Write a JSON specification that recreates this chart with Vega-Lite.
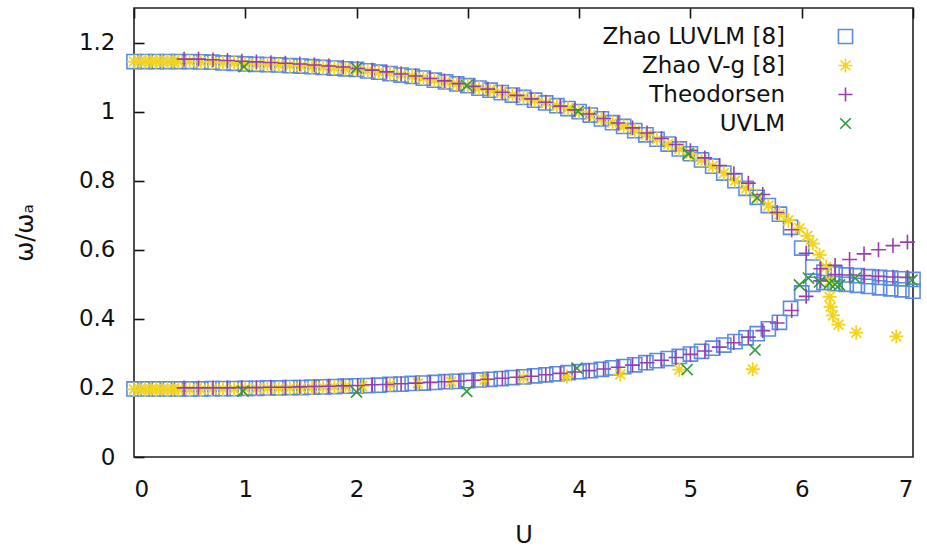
{
"$schema": "https://vega.github.io/schema/vega-lite/v6.json",
"width": 779, "height": 449,
"autosize": {"type": "none"},
"padding": {"left": 134, "top": 8, "right": 14, "bottom": 93},
"background": "white",
"config": {
 "font": "DejaVu Sans",
 "view": {"stroke": "#222", "strokeWidth": 1.6},
 "axis": {"grid": true, "gridColor": "#111", "gridWidth": 1.6, "gridOpacity": 1, "gridDash": [10, 2000], "domain": false, "ticks": true, "tickSize": 0, "labelFontSize": 23, "labelColor": "#111", "titleFontSize": 24, "titleFontWeight": "normal", "titleColor": "#111"},
 "legend": {"labelFontSize": 23, "labelColor": "#111", "labelLimit": 400}
},
"data": {"values": [
{"s":"L","u":0,"v":1.145},{"s":"L","u":0.1,"v":1.145},{"s":"L","u":0.2,"v":1.145},{"s":"L","u":0.3,"v":1.145},{"s":"L","u":0.4,"v":1.145},{"s":"L","u":0.5,"v":1.145},{"s":"L","u":0.6,"v":1.144},{"s":"L","u":0.7,"v":1.143},{"s":"L","u":0.8,"v":1.141},{"s":"L","u":0.9,"v":1.14},
{"s":"L","u":1,"v":1.138},{"s":"L","u":1.1,"v":1.137},{"s":"L","u":1.2,"v":1.136},{"s":"L","u":1.3,"v":1.135},{"s":"L","u":1.4,"v":1.133},{"s":"L","u":1.5,"v":1.132},{"s":"L","u":1.6,"v":1.13},{"s":"L","u":1.7,"v":1.128},{"s":"L","u":1.8,"v":1.126},{"s":"L","u":1.9,"v":1.124},
{"s":"L","u":2,"v":1.122},{"s":"L","u":2.1,"v":1.118},{"s":"L","u":2.2,"v":1.114},{"s":"L","u":2.3,"v":1.11},{"s":"L","u":2.4,"v":1.106},{"s":"L","u":2.5,"v":1.102},{"s":"L","u":2.6,"v":1.097},{"s":"L","u":2.7,"v":1.091},{"s":"L","u":2.8,"v":1.086},{"s":"L","u":2.9,"v":1.08},
{"s":"L","u":3,"v":1.075},{"s":"L","u":3.1,"v":1.068},{"s":"L","u":3.2,"v":1.062},{"s":"L","u":3.3,"v":1.055},{"s":"L","u":3.4,"v":1.048},{"s":"L","u":3.5,"v":1.041},{"s":"L","u":3.6,"v":1.033},{"s":"L","u":3.7,"v":1.025},{"s":"L","u":3.8,"v":1.017},{"s":"L","u":3.9,"v":1.009},
{"s":"L","u":4,"v":1.0},{"s":"L","u":4.1,"v":0.99},{"s":"L","u":4.2,"v":0.979},{"s":"L","u":4.3,"v":0.968},{"s":"L","u":4.4,"v":0.957},{"s":"L","u":4.5,"v":0.945},{"s":"L","u":4.6,"v":0.933},{"s":"L","u":4.7,"v":0.92},{"s":"L","u":4.8,"v":0.906},{"s":"L","u":4.9,"v":0.892},
{"s":"L","u":5,"v":0.878},{"s":"L","u":5.1,"v":0.86},{"s":"L","u":5.2,"v":0.842},{"s":"L","u":5.3,"v":0.822},{"s":"L","u":5.4,"v":0.8},{"s":"L","u":5.5,"v":0.778},{"s":"L","u":5.6,"v":0.752},{"s":"L","u":5.7,"v":0.728},{"s":"L","u":5.8,"v":0.703},{"s":"L","u":5.9,"v":0.665},
{"s":"L","u":6,"v":0.605},{"s":"L","u":6.1,"v":0.55},{"s":"L","u":6.2,"v":0.535},{"s":"L","u":6.3,"v":0.53},{"s":"L","u":6.4,"v":0.527},{"s":"L","u":6.5,"v":0.525},{"s":"L","u":6.6,"v":0.522},{"s":"L","u":6.7,"v":0.52},{"s":"L","u":6.8,"v":0.518},{"s":"L","u":6.9,"v":0.516},{"s":"L","u":7,"v":0.514},
{"s":"L","u":0,"v":0.197},{"s":"L","u":0.1,"v":0.197},{"s":"L","u":0.2,"v":0.197},{"s":"L","u":0.3,"v":0.197},{"s":"L","u":0.4,"v":0.197},{"s":"L","u":0.5,"v":0.197},{"s":"L","u":0.6,"v":0.197},{"s":"L","u":0.7,"v":0.198},{"s":"L","u":0.8,"v":0.198},{"s":"L","u":0.9,"v":0.198},
{"s":"L","u":1,"v":0.199},{"s":"L","u":1.1,"v":0.199},{"s":"L","u":1.2,"v":0.2},{"s":"L","u":1.3,"v":0.2},{"s":"L","u":1.4,"v":0.201},{"s":"L","u":1.5,"v":0.201},{"s":"L","u":1.6,"v":0.202},{"s":"L","u":1.7,"v":0.203},{"s":"L","u":1.8,"v":0.204},{"s":"L","u":1.9,"v":0.205},
{"s":"L","u":2,"v":0.206},{"s":"L","u":2.1,"v":0.207},{"s":"L","u":2.2,"v":0.208},{"s":"L","u":2.3,"v":0.21},{"s":"L","u":2.4,"v":0.211},{"s":"L","u":2.5,"v":0.213},{"s":"L","u":2.6,"v":0.214},{"s":"L","u":2.7,"v":0.216},{"s":"L","u":2.8,"v":0.218},{"s":"L","u":2.9,"v":0.219},
{"s":"L","u":3,"v":0.221},{"s":"L","u":3.1,"v":0.223},{"s":"L","u":3.2,"v":0.225},{"s":"L","u":3.3,"v":0.227},{"s":"L","u":3.4,"v":0.23},{"s":"L","u":3.5,"v":0.232},{"s":"L","u":3.6,"v":0.235},{"s":"L","u":3.7,"v":0.238},{"s":"L","u":3.8,"v":0.241},{"s":"L","u":3.9,"v":0.244},
{"s":"L","u":4,"v":0.247},{"s":"L","u":4.1,"v":0.25},{"s":"L","u":4.2,"v":0.254},{"s":"L","u":4.3,"v":0.258},{"s":"L","u":4.4,"v":0.262},{"s":"L","u":4.5,"v":0.267},{"s":"L","u":4.6,"v":0.273},{"s":"L","u":4.7,"v":0.279},{"s":"L","u":4.8,"v":0.285},{"s":"L","u":4.9,"v":0.291},
{"s":"L","u":5,"v":0.298},{"s":"L","u":5.1,"v":0.306},{"s":"L","u":5.2,"v":0.315},{"s":"L","u":5.3,"v":0.324},{"s":"L","u":5.4,"v":0.334},{"s":"L","u":5.5,"v":0.345},{"s":"L","u":5.6,"v":0.357},{"s":"L","u":5.7,"v":0.371},{"s":"L","u":5.8,"v":0.39},{"s":"L","u":5.9,"v":0.43},
{"s":"L","u":6,"v":0.475},{"s":"L","u":6.1,"v":0.5},{"s":"L","u":6.2,"v":0.505},{"s":"L","u":6.3,"v":0.502},{"s":"L","u":6.4,"v":0.5},{"s":"L","u":6.5,"v":0.497},{"s":"L","u":6.6,"v":0.494},{"s":"L","u":6.7,"v":0.49},{"s":"L","u":6.8,"v":0.487},{"s":"L","u":6.9,"v":0.484},{"s":"L","u":7,"v":0.48},

{"s":"V","u":0,"v":1.145},{"s":"V","u":0.05,"v":1.145},{"s":"V","u":0.1,"v":1.145},{"s":"V","u":0.15,"v":1.145},{"s":"V","u":0.2,"v":1.145},{"s":"V","u":0.25,"v":1.145},{"s":"V","u":0.3,"v":1.145},{"s":"V","u":0.35,"v":1.145},{"s":"V","u":0.4,"v":1.145},{"s":"V","u":0.5,"v":1.145},{"s":"V","u":0.6,"v":1.144},{"s":"V","u":0.7,"v":1.143},{"s":"V","u":0.8,"v":1.141},{"s":"V","u":0.9,"v":1.14},
{"s":"V","u":1,"v":1.138},{"s":"V","u":1.1,"v":1.137},{"s":"V","u":1.2,"v":1.136},{"s":"V","u":1.3,"v":1.135},{"s":"V","u":1.4,"v":1.133},{"s":"V","u":1.5,"v":1.132},{"s":"V","u":1.6,"v":1.13},{"s":"V","u":1.7,"v":1.128},{"s":"V","u":1.8,"v":1.126},{"s":"V","u":1.9,"v":1.124},
{"s":"V","u":2,"v":1.122},{"s":"V","u":2.1,"v":1.118},{"s":"V","u":2.2,"v":1.114},{"s":"V","u":2.3,"v":1.11},{"s":"V","u":2.4,"v":1.106},{"s":"V","u":2.5,"v":1.102},{"s":"V","u":2.6,"v":1.097},{"s":"V","u":2.7,"v":1.091},{"s":"V","u":2.8,"v":1.086},{"s":"V","u":2.9,"v":1.08},
{"s":"V","u":3,"v":1.075},{"s":"V","u":3.1,"v":1.068},{"s":"V","u":3.2,"v":1.062},{"s":"V","u":3.3,"v":1.055},{"s":"V","u":3.4,"v":1.048},{"s":"V","u":3.5,"v":1.041},{"s":"V","u":3.6,"v":1.033},{"s":"V","u":3.7,"v":1.025},{"s":"V","u":3.8,"v":1.017},{"s":"V","u":3.9,"v":1.009},
{"s":"V","u":4,"v":1.0},{"s":"V","u":4.1,"v":0.99},{"s":"V","u":4.2,"v":0.979},{"s":"V","u":4.3,"v":0.968},{"s":"V","u":4.4,"v":0.957},{"s":"V","u":4.5,"v":0.945},{"s":"V","u":4.6,"v":0.933},{"s":"V","u":4.7,"v":0.92},{"s":"V","u":4.8,"v":0.906},{"s":"V","u":4.9,"v":0.892},
{"s":"V","u":5,"v":0.878},{"s":"V","u":5.1,"v":0.86},{"s":"V","u":5.2,"v":0.842},{"s":"V","u":5.3,"v":0.822},{"s":"V","u":5.4,"v":0.8},{"s":"V","u":5.5,"v":0.778},{"s":"V","u":5.6,"v":0.752},{"s":"V","u":5.7,"v":0.728},{"s":"V","u":5.8,"v":0.703},{"s":"V","u":5.88,"v":0.685},
{"s":"V","u":5.98,"v":0.662},{"s":"V","u":6.05,"v":0.64},{"s":"V","u":6.1,"v":0.618},{"s":"V","u":6.16,"v":0.585},{"s":"V","u":6.22,"v":0.55},{"s":"V","u":6.25,"v":0.51},{"s":"V","u":6.25,"v":0.464},{"s":"V","u":6.26,"v":0.435},{"s":"V","u":6.28,"v":0.41},{"s":"V","u":6.33,"v":0.383},{"s":"V","u":6.49,"v":0.36},{"s":"V","u":6.85,"v":0.349},
{"s":"V","u":0,"v":0.196},{"s":"V","u":0.05,"v":0.196},{"s":"V","u":0.1,"v":0.196},{"s":"V","u":0.15,"v":0.196},{"s":"V","u":0.2,"v":0.196},{"s":"V","u":0.25,"v":0.196},{"s":"V","u":0.3,"v":0.196},{"s":"V","u":0.35,"v":0.196},{"s":"V","u":0.4,"v":0.196},{"s":"V","u":0.5,"v":0.196},{"s":"V","u":0.6,"v":0.196},{"s":"V","u":0.7,"v":0.197},{"s":"V","u":0.8,"v":0.197},{"s":"V","u":0.9,"v":0.197},
{"s":"V","u":1,"v":0.198},{"s":"V","u":1.1,"v":0.198},{"s":"V","u":1.2,"v":0.199},{"s":"V","u":1.3,"v":0.199},{"s":"V","u":1.4,"v":0.2},{"s":"V","u":1.5,"v":0.2},{"s":"V","u":1.6,"v":0.201},{"s":"V","u":1.7,"v":0.202},{"s":"V","u":1.8,"v":0.203},{"s":"V","u":1.9,"v":0.204},
{"s":"V","u":2.05,"v":0.206},{"s":"V","u":2.3,"v":0.21},{"s":"V","u":2.55,"v":0.213},{"s":"V","u":2.85,"v":0.218},{"s":"V","u":3.15,"v":0.224},{"s":"V","u":3.5,"v":0.23},{"s":"V","u":3.89,"v":0.233},{"s":"V","u":4.37,"v":0.239},{"s":"V","u":4.9,"v":0.253},{"s":"V","u":5.56,"v":0.254},

{"s":"T","u":0.45,"v":1.152},{"s":"T","u":0.58,"v":1.152},{"s":"T","u":0.71,"v":1.15},{"s":"T","u":0.84,"v":1.148},{"s":"T","u":0.97,"v":1.146},{"s":"T","u":1.1,"v":1.144},{"s":"T","u":1.23,"v":1.142},{"s":"T","u":1.36,"v":1.14},{"s":"T","u":1.49,"v":1.138},{"s":"T","u":1.62,"v":1.135},
{"s":"T","u":1.75,"v":1.132},{"s":"T","u":1.88,"v":1.129},{"s":"T","u":2.01,"v":1.125},{"s":"T","u":2.14,"v":1.12},{"s":"T","u":2.27,"v":1.115},{"s":"T","u":2.4,"v":1.109},{"s":"T","u":2.53,"v":1.103},{"s":"T","u":2.66,"v":1.096},{"s":"T","u":2.79,"v":1.089},{"s":"T","u":2.92,"v":1.081},
{"s":"T","u":3.05,"v":1.073},{"s":"T","u":3.18,"v":1.065},{"s":"T","u":3.31,"v":1.056},{"s":"T","u":3.44,"v":1.047},{"s":"T","u":3.57,"v":1.037},{"s":"T","u":3.7,"v":1.027},{"s":"T","u":3.83,"v":1.016},{"s":"T","u":3.96,"v":1.005},{"s":"T","u":4.09,"v":0.993},{"s":"T","u":4.22,"v":0.98},
{"s":"T","u":4.35,"v":0.967},{"s":"T","u":4.48,"v":0.953},{"s":"T","u":4.61,"v":0.938},{"s":"T","u":4.74,"v":0.922},{"s":"T","u":4.87,"v":0.905},{"s":"T","u":5.0,"v":0.887},{"s":"T","u":5.13,"v":0.866},{"s":"T","u":5.26,"v":0.844},{"s":"T","u":5.39,"v":0.82},{"s":"T","u":5.52,"v":0.793},
{"s":"T","u":5.65,"v":0.76},{"s":"T","u":5.78,"v":0.708},{"s":"T","u":5.91,"v":0.658},{"s":"T","u":6.04,"v":0.59},{"s":"T","u":6.17,"v":0.545},{"s":"T","u":6.3,"v":0.555},{"s":"T","u":6.43,"v":0.572},{"s":"T","u":6.56,"v":0.588},{"s":"T","u":6.69,"v":0.6},{"s":"T","u":6.82,"v":0.612},{"s":"T","u":6.95,"v":0.622},
{"s":"T","u":0.45,"v":0.2},{"s":"T","u":0.58,"v":0.2},{"s":"T","u":0.71,"v":0.2},{"s":"T","u":0.84,"v":0.2},{"s":"T","u":0.97,"v":0.201},{"s":"T","u":1.1,"v":0.201},{"s":"T","u":1.23,"v":0.202},{"s":"T","u":1.36,"v":0.202},{"s":"T","u":1.49,"v":0.203},{"s":"T","u":1.62,"v":0.204},
{"s":"T","u":1.75,"v":0.205},{"s":"T","u":1.88,"v":0.206},{"s":"T","u":2.01,"v":0.207},{"s":"T","u":2.14,"v":0.209},{"s":"T","u":2.27,"v":0.21},{"s":"T","u":2.4,"v":0.212},{"s":"T","u":2.53,"v":0.214},{"s":"T","u":2.66,"v":0.216},{"s":"T","u":2.79,"v":0.218},{"s":"T","u":2.92,"v":0.22},
{"s":"T","u":3.05,"v":0.222},{"s":"T","u":3.18,"v":0.225},{"s":"T","u":3.31,"v":0.228},{"s":"T","u":3.44,"v":0.231},{"s":"T","u":3.57,"v":0.234},{"s":"T","u":3.7,"v":0.238},{"s":"T","u":3.83,"v":0.242},{"s":"T","u":3.96,"v":0.246},{"s":"T","u":4.09,"v":0.25},{"s":"T","u":4.22,"v":0.255},
{"s":"T","u":4.35,"v":0.26},{"s":"T","u":4.48,"v":0.266},{"s":"T","u":4.61,"v":0.273},{"s":"T","u":4.74,"v":0.28},{"s":"T","u":4.87,"v":0.288},{"s":"T","u":5.0,"v":0.297},{"s":"T","u":5.13,"v":0.307},{"s":"T","u":5.26,"v":0.318},{"s":"T","u":5.39,"v":0.331},{"s":"T","u":5.52,"v":0.347},
{"s":"T","u":5.65,"v":0.366},{"s":"T","u":5.78,"v":0.388},{"s":"T","u":5.91,"v":0.424},{"s":"T","u":6.04,"v":0.465},{"s":"T","u":6.17,"v":0.51},{"s":"T","u":6.3,"v":0.528},{"s":"T","u":6.43,"v":0.527},{"s":"T","u":6.56,"v":0.525},{"s":"T","u":6.69,"v":0.523},{"s":"T","u":6.82,"v":0.521},{"s":"T","u":6.95,"v":0.52},

{"s":"X","u":0.99,"v":1.13},{"s":"X","u":2,"v":1.126},{"s":"X","u":2.99,"v":1.075},{"s":"X","u":3.99,"v":1.001},{"s":"X","u":4.98,"v":0.878},{"s":"X","u":5.6,"v":0.75},
{"s":"X","u":5.98,"v":0.498},{"s":"X","u":6.06,"v":0.518},{"s":"X","u":6.16,"v":0.507},{"s":"X","u":6.25,"v":0.503},{"s":"X","u":6.3,"v":0.5},{"s":"X","u":6.34,"v":0.498},{"s":"X","u":6.48,"v":0.518},{"s":"X","u":6.99,"v":0.512},
{"s":"X","u":0.98,"v":0.191},{"s":"X","u":2,"v":0.188},{"s":"X","u":2.99,"v":0.19},{"s":"X","u":3.98,"v":0.257},{"s":"X","u":4.97,"v":0.253},{"s":"X","u":5.58,"v":0.31}
]},
"encoding": {
 "x": {"field": "u", "type": "quantitative", "scale": {"domain": [0, 7], "nice": false, "zero": false}},
 "y": {"field": "v", "type": "quantitative", "scale": {"domain": [0, 1.3], "nice": false}},
 "color": {"field": "s", "type": "nominal", "scale": {"domain": ["L", "V", "T", "X"], "range": ["#5b8ce2", "#f4d41a", "#9a3cb0", "#2f9a3c"]},
   "legend": {"title": null, "orient": "none", "legendX": 700, "legendY": 17, "padding": 0, "labelAlign": "right", "labelOffset": -72, "rowPadding": 5, "symbolStrokeWidth": 1.6, "symbolSize": 200,
     "labelExpr": "datum.label == 'L' ? 'Zhao LUVLM [8]' : datum.label == 'V' ? 'Zhao V-g [8]' : datum.label == 'T' ? 'Theodorsen' : 'UVLM'"}},
 "shape": {"field": "s", "type": "nominal", "scale": {"domain": ["L", "V", "T", "X"], "range": ["square", "M-1,0L1,0M0,-1L0,1M-0.7,-0.7L0.7,0.7M-0.7,0.7L0.7,-0.7", "M-1,0L1,0M0,-1L0,1", "M-0.75,-0.75L0.75,0.75M-0.75,0.75L0.75,-0.75"]}, "legend": null}
},
"layer": [
 {"transform": [{"filter": "datum.s == 'L'"}], "mark": {"type": "point", "filled": false, "size": 200, "strokeWidth": 1.6, "opacity": 1, "clip": false},
  "encoding": {
   "x": {"field": "u", "type": "quantitative", "axis": {"values": [0,1,2,3,4,5,6,7], "labelPadding": 21, "title": "U", "titlePadding": 22}},
   "y": {"field": "v", "type": "quantitative", "axis": {"values": [0,0.2,0.4,0.6,0.8,1,1.2], "format": "~g", "labelPadding": 19, "title": "ω/ωₐ", "titlePadding": 41}}}},
 {"transform": [{"filter": "datum.s == 'V'"}], "mark": {"type": "point", "filled": false, "size": 200, "strokeWidth": 1.8, "opacity": 1, "clip": false},
  "encoding": {"x": {"field": "u", "type": "quantitative", "axis": null}, "y": {"field": "v", "type": "quantitative", "axis": null}}},
 {"transform": [{"filter": "datum.s == 'T'"}], "mark": {"type": "point", "filled": false, "size": 220, "strokeWidth": 1.6, "opacity": 1, "clip": false},
  "encoding": {"x": {"field": "u", "type": "quantitative", "axis": null}, "y": {"field": "v", "type": "quantitative", "axis": null}}},
 {"transform": [{"filter": "datum.s == 'X'"}], "mark": {"type": "point", "filled": false, "size": 220, "strokeWidth": 1.6, "opacity": 1, "clip": false},
  "encoding": {
   "x": {"field": "u", "type": "quantitative", "axis": {"orient": "top", "values": [0,1,2,3,4,5,6,7], "labels": false, "title": null}},
   "y": {"field": "v", "type": "quantitative", "axis": {"orient": "right", "values": [0,0.2,0.4,0.6,0.8,1,1.2], "labels": false, "title": null}}}}
],
"resolve": {"axis": {"x": "independent", "y": "independent"}}
}
